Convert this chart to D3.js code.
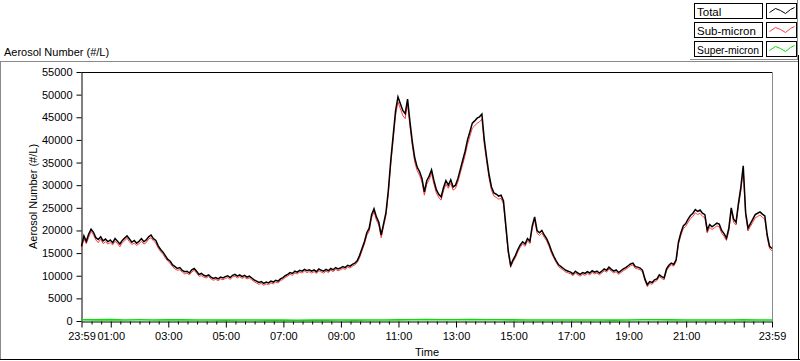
<!DOCTYPE html>
<html><head><meta charset="utf-8">
<script src="https://cdn.jsdelivr.net/npm/d3@7"></script>
<style>body{margin:0;background:#fff}svg{display:block;font-family:"Liberation Sans",Arial,sans-serif}</style>
</head><body><svg id="c" width="800" height="361"></svg>
<script>
// Time step of the number series (minutes from 23:59 start)
const stepMinutes = 5;
const superStepMinutes = 30;

const total = [
16500,18800,17600,19200,20300,19600,18400,18000,18600,17700,18100,17500,
17900,17300,18200,17600,17000,17800,18300,18800,18100,17400,17800,17200,
17600,18200,17500,17900,18600,19000,18200,17800,16600,15800,15200,14400,
13600,13200,12400,12000,11600,11800,11200,10900,11000,10600,11300,11600,
11000,10300,10500,10100,9900,10200,9700,9400,9600,9300,9700,9500,
9800,10000,9600,10100,10300,9900,10200,9800,10100,9700,9900,9500,
9100,8800,8500,8700,8300,8600,8400,8800,8600,9000,8800,9300,
9600,10000,10300,10700,10500,11000,10800,11200,11000,11400,11100,11300,
11000,11300,10900,11500,11200,11000,11400,11100,11600,11300,11800,11500,
11700,12000,11800,12300,12100,12500,12800,13300,14500,16000,17500,19500,
20500,23500,24800,23000,21800,19000,21500,24000,29000,35500,41000,46500,
49500,48000,46500,45800,49000,44000,39500,36000,34000,33000,31500,28500,
31000,32000,33400,31000,29000,28000,27400,29500,31000,30000,31200,29600,
30000,31500,33500,35500,37500,40000,41800,43700,44200,44800,45100,45700,
40000,36000,32300,29600,28300,28000,27600,27800,26500,21000,15500,12300,
13500,14500,15800,16800,17500,17000,18200,17600,21000,23000,20000,19500,
20000,19000,18200,17000,15500,14300,13300,12400,12000,11600,11200,11000,
10800,10400,11000,10600,10300,10700,10500,10900,10600,11100,10800,11000,
10600,11000,11500,11200,11900,11400,11000,11300,10700,11100,11500,11800,
12200,12600,12800,12000,11900,11700,11200,9300,8000,8700,8500,9100,
9300,10200,9800,9500,11500,12300,12800,12500,13500,17500,19500,21000,
21500,22500,23300,23800,24600,24200,24500,23800,23500,20100,21300,20800,
21200,21600,21400,20000,19300,18300,20500,25000,22500,21800,26000,29500,
34300,24000,20500,21500,22500,23500,23800,24100,23600,23200,19000,16500,
16000];

const subMicron = [
16000,18200,17100,18500,19800,19000,17900,17300,18100,17100,17500,17000,
17300,16800,17600,17100,16400,17300,17700,18300,17500,16900,17200,16700,
17100,17600,17000,17300,18100,18400,17700,17200,16100,15300,14700,13900,
13200,12700,12000,11500,11200,11300,10800,10400,10600,10200,10800,11200,
10600,9900,10000,9700,9500,9800,9300,9000,9200,8900,9300,9100,
9400,9600,9200,9700,9900,9500,9800,9400,9700,9300,9500,9100,
8700,8400,8100,8300,7900,8200,8000,8400,8200,8600,8400,8900,
9200,9600,9900,10300,10100,10600,10400,10800,10600,11000,10700,10900,
10600,10900,10500,11100,10800,10600,11000,10700,11200,10900,11400,11100,
11300,11600,11400,11900,11700,12100,12400,12900,14000,15500,17000,18900,
19900,22800,24100,22300,21200,18400,20900,23300,28200,34600,40000,45400,
48400,46900,45400,44700,47900,43000,38600,35100,33200,32200,30700,27800,
30200,31200,32600,30200,28300,27300,26700,28800,30200,29300,30400,28900,
29300,30700,32700,34600,36600,39000,40800,42600,43100,43700,44000,44600,
39000,35100,31500,28900,27600,27300,26900,27100,25800,20400,15000,11900,
13100,14000,15300,16300,17000,16500,17700,17100,20400,22400,19400,18900,
19400,18500,17700,16500,15000,13900,12900,12000,11600,11200,10800,10600,
10400,10000,10600,10200,9900,10300,10100,10500,10200,10700,10400,10600,
10200,10600,11100,10800,11500,11000,10600,10900,10300,10700,11100,11400,
11800,12200,12400,11600,11500,11300,10800,8900,7600,8300,8100,8700,
8900,9800,9400,9100,11100,11900,12400,12100,13100,17000,18900,20400,
20900,21800,22600,23100,23900,23500,23800,23100,22800,19500,20700,20200,
20600,21000,20800,19400,18700,17800,19900,24300,21800,21200,25300,28700,
33400,23300,19900,20900,21800,22800,23100,23400,22900,22500,18400,16000,
15500];

const superMicron = [
280,240,300,230,260,220,290,240,210,230,200,220,
210,190,200,180,190,200,210,190,220,210,240,280,
300,260,290,310,280,260,240,230,220,210,230,220,
210,200,230,290,260,240,230,220,210,230,240,220,
210];

const yTicks = [0,5000,10000,15000,20000,25000,30000,35000,40000,45000,50000,55000];
const xTickMinutes = [0,61,181,301,421,541,661,781,901,1021,1141,1261,1381,1440];
const xTickLabels = ["23:59","01:00","03:00","05:00","07:00","09:00","11:00","13:00","15:00","17:00","19:00","21:00","","23:59"];
const seriesNames = ["Total","Sub-micron","Super-micron"];
const seriesColors = ["#000000","#ff3c3c","#00e400"];
const yTitle = "Aerosol Number (#/L)";
const xTitle = "Time";

const svg = d3.select("#c");
const W = 800, H = 361;
svg.append("rect").attr("width",W).attr("height",H).attr("fill","#fff");

// panel frame
svg.append("line").attr("x1",0).attr("x2",798).attr("y1",61.5).attr("y2",61.5).attr("stroke","#8a8a8a");
svg.append("line").attr("x1",0.5).attr("x2",0.5).attr("y1",61.5).attr("y2",360).attr("stroke","#8a8a8a");
svg.append("line").attr("x1",0).attr("x2",800).attr("y1",359.5).attr("y2",359.5).attr("stroke","#000");
svg.append("line").attr("x1",798.5).attr("x2",798.5).attr("y1",55).attr("y2",360).attr("stroke","#000");

const x = d3.scaleLinear().domain([0,1440]).range([81.5,772]);
const y = d3.scaleLinear().domain([0,55000]).range([321,72]);

// chart title
svg.append("text").attr("x",4).attr("y",56).attr("font-size",11).attr("fill","#000").text(yTitle);

// plot border top and right
svg.append("line").attr("x1",81.5).attr("x2",772).attr("y1",72.5).attr("y2",72.5).attr("stroke","#000");
svg.append("line").attr("x1",772.5).attr("x2",772.5).attr("y1",72).attr("y2",321).attr("stroke","#8a8a8a");

// y axis
const ya = svg.append("g").attr("transform","translate(81.5,0)")
  .call(d3.axisLeft(y).tickValues(yTicks).tickFormat(d3.format("d")).tickSize(5).tickSizeOuter(0).tickPadding(4));
ya.selectAll("text").attr("font-size",11).attr("font-family","Liberation Sans, Arial, sans-serif").attr("fill","#000");
ya.select(".domain").attr("stroke","#000");

// x axis minor
const minor = d3.range(21,1440,20).filter(m => !xTickMinutes.includes(m));
svg.append("g").attr("transform","translate(0,321.5)")
  .call(d3.axisBottom(x).tickValues(minor).tickFormat("").tickSize(3).tickSizeOuter(0))
  .select(".domain").remove();
const xa = svg.append("g").attr("transform","translate(0,321.5)")
  .call(d3.axisBottom(x).tickValues(xTickMinutes).tickFormat((d,i)=>xTickLabels[i]).tickSize(6).tickSizeOuter(0).tickPadding(5));
xa.selectAll("text").attr("font-size",11).attr("font-family","Liberation Sans, Arial, sans-serif").attr("fill","#000");
xa.select(".domain").attr("stroke","#000");

// axis titles
svg.append("text").attr("transform","translate(37,196.5) rotate(-90)").attr("text-anchor","middle")
  .attr("font-size",11).text(yTitle);
svg.append("text").attr("x",427).attr("y",356).attr("text-anchor","middle").attr("font-size",11).text(xTitle);

// series lines
const line5 = d3.line().x((d,i)=>x(i*stepMinutes)).y(d=>y(d));
const line30 = d3.line().x((d,i)=>x(i*superStepMinutes)).y(d=>y(d));
const g = svg.append("g");
g.append("path").datum(subMicron).attr("d",line5).attr("fill","none").attr("stroke",seriesColors[1]).attr("stroke-width",1);
g.append("path").datum(total).attr("d",line5).attr("fill","none").attr("stroke",seriesColors[0]).attr("stroke-width",1.5);
g.append("path").datum(superMicron).attr("d",line30).attr("fill","none").attr("stroke",seriesColors[2]).attr("stroke-width",1.6);

// legend
svg.append("line").attr("x1",690).attr("x2",798).attr("y1",59.5).attr("y2",59.5).attr("stroke","#8a8a8a");
svg.append("line").attr("x1",797.5).attr("x2",797.5).attr("y1",0).attr("y2",60).attr("stroke","#8a8a8a");
const zig = [[3,9],[9,5],[14,7],[19,10],[24,6],[28,4]];
seriesNames.forEach((name,i)=>{
  const top = 3.5 + i*19;
  svg.append("rect").attr("x",694.5).attr("y",top).attr("width",68).attr("height",15).attr("fill","#fff").attr("stroke","#000");
  const t = svg.append("text").attr("x",697).attr("y",top+12).attr("font-size",11.5).text(name);
  if (t.node().getComputedTextLength() > 62) t.attr("textLength",62).attr("lengthAdjust","spacingAndGlyphs");
  svg.append("rect").attr("x",766.5).attr("y",top).attr("width",30).attr("height",15).attr("fill","#fff").attr("stroke","#000");
  svg.append("path").attr("d",d3.line()(zig.map(p=>[766.5+p[0], top+p[1]])))
    .attr("fill","none").attr("stroke",seriesColors[i]).attr("stroke-width",1);
});
</script></body></html>
